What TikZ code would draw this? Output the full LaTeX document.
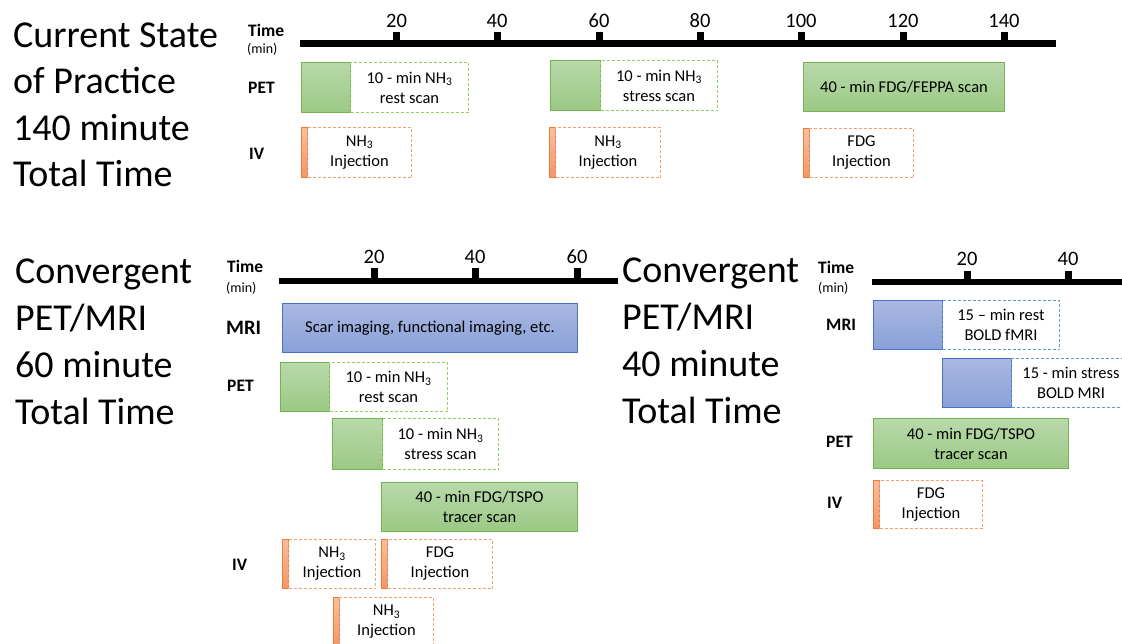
\documentclass[tikz,border=0pt]{standalone}
\usepackage{fontspec}
\setmainfont{Carlito}
\definecolor{gtop}{RGB}{184,217,170}
\definecolor{gbot}{RGB}{155,201,132}
\definecolor{gline}{RGB}{118,178,80}
\definecolor{gdash}{RGB}{146,208,100}
\definecolor{btop}{RGB}{170,184,226}
\definecolor{bbot}{RGB}{137,160,216}
\definecolor{bline}{RGB}{68,114,196}
\definecolor{bdash}{RGB}{91,155,213}
\definecolor{otop}{RGB}{248,190,160}
\definecolor{obot}{RGB}{243,150,105}
\definecolor{oline}{RGB}{237,125,49}
\definecolor{odash}{RGB}{241,160,110}
\newcommand\bx[7]{\node[#2, anchor=north west, minimum width={(#5-#3)*1pt}, minimum height={(#6-#4)*1pt}] (#1) at (#3,#4) {#7};}
\tikzset{
  box/.style={inner sep=0pt, align=center, font=\fontsize{16.5}{20}\selectfont, line width=1pt},
  gsolid/.style={box, draw=gline, top color=gtop, bottom color=gbot},
  gdashed/.style={box, draw=gdash, dash pattern=on 3pt off 2pt},
  bsolid/.style={box, draw=bline, top color=btop, bottom color=bbot},
  bdashed/.style={box, draw=bdash, dash pattern=on 3pt off 2pt},
  obar/.style={box, draw=oline, top color=otop, bottom color=obot},
  odashed/.style={box, draw=odash, dash pattern=on 3pt off 2pt},
  title/.style={anchor=base west, inner sep=0pt, font=\fontsize{38}{46}\selectfont},
  axnum/.style={anchor=base, inner sep=0pt, font=\fontsize{20.5}{24}\selectfont},
  rowlab/.style={anchor=base west, inner sep=0pt, font=\bfseries\fontsize{17.5}{20}\selectfont},
  timelab/.style={anchor=base west, inner sep=0pt, font=\bfseries\fontsize{17.5}{20}\selectfont},
  minlab/.style={anchor=base west, inner sep=0pt, font=\fontsize{14}{16}\selectfont},
  axis/.style={line width=6.5pt},
}
\begin{document}
\begin{tikzpicture}[x=1pt,y=-1pt]
\useasboundingbox (0,0) rectangle (1122,643);
\clip (0,0) rectangle (1122,643);
% ---------------- titles
\node[title] (t1a) at (13,47) {Current State};
\node[title] (t1b) at (13,93.5) {of Practice};
\node[title] (t1c) at (13,140) {140 minute};
\node[title] (t1d) at (13,186.5) {Total Time};
\node[title] (t2a) at (15,283) {Convergent};
\node[title] (t2b) at (15,330) {PET/MRI};
\node[title] (t2c) at (15,377.5) {60 minute};
\node[title] (t2d) at (15,424.5) {Total Time};
\node[title] (t3a) at (622,282) {Convergent};
\node[title] (t3b) at (622,329) {PET/MRI};
\node[title] (t3c) at (622,376) {40 minute};
\node[title] (t3d) at (622,423) {Total Time};
% ---------------- top timeline
\node[timelab] (tm1) at (248,36) {Time};
\node[minlab] (mn1) at (247,53) {(min)};
\node[rowlab] (pet1) at (248,93) {PET};
\node[rowlab] (iv1) at (249,159) {IV};
\draw[axis] (300,43.5) -- (1056,43.5);
\foreach \x/\n in {396.5/20,497/40,599/60,700/80,801/100,903/120,1004/140}{
  \fill (\x-3.5,32) rectangle (\x+3.5,44);
  \node[axnum] (n1-\n) at (\x,27) {\n};
}
\bx{p1a}{gsolid}{301}{62}{350}{112}{}
\bx{p1b}{gdashed}{350}{62}{468}{112}{10 - min NH\textsubscript{3}\\rest scan}
\bx{p2a}{gsolid}{550}{60}{600}{110}{}
\bx{p2b}{gdashed}{600}{60}{717}{110}{10 - min NH\textsubscript{3}\\stress scan}
\bx{p3}{gsolid}{803}{62}{1004}{111}{40 - min FDG/FEPPA scan}
\bx{i1a}{obar}{301}{127}{307}{177}{}
\bx{i1b}{odashed}{307}{127}{411}{177}{NH\textsubscript{3}\\Injection}
\bx{i2a}{obar}{549}{127}{555}{177}{}
\bx{i2b}{odashed}{555}{127}{660}{177}{NH\textsubscript{3}\\Injection}
\bx{i3a}{obar}{803}{128}{809}{177}{}
\bx{i3b}{odashed}{809}{128}{913}{177}{FDG\\Injection}
% ---------------- bottom-left timeline
\node[timelab] (tm2) at (227,272) {Time};
\node[minlab] (mn2) at (226,292) {(min)};
\node[rowlab, font=\bfseries\fontsize{20.5}{22}\selectfont] (mri2) at (226,334) {MRI};
\node[rowlab] (pet2) at (227,391) {PET};
\node[rowlab] (iv2) at (232,570) {IV};
\draw[axis] (279,281) -- (618,281);
\foreach \x/\n in {374/20,475/40,577/60}{
  \fill (\x-3.5,268) rectangle (\x+3.5,282);
  \node[axnum] (n2-\n) at (\x,263) {\n};
}
\bx{m2}{bsolid}{282}{303}{577}{352}{Scar imaging, functional imaging, etc.}
\bx{q1a}{gsolid}{280}{362}{329}{411}{}
\bx{q1b}{gdashed}{329}{362}{447}{411}{10 - min NH\textsubscript{3}\\rest scan}
\bx{q2a}{gsolid}{332}{418}{382}{469}{}
\bx{q2b}{gdashed}{382}{418}{498}{469}{10 - min NH\textsubscript{3}\\stress scan}
\bx{q3}{gsolid}{381}{482}{577}{531}{40 - min FDG/TSPO\\tracer scan}
\bx{j1a}{obar}{282}{539}{288}{588}{}
\bx{j1b}{odashed}{288}{539}{375}{588}{NH\textsubscript{3}\\Injection}
\bx{j2a}{obar}{381}{539}{387}{588}{}
\bx{j2b}{odashed}{387}{539}{492}{588}{FDG\\Injection}
\bx{j3a}{obar}{333}{597}{339}{646}{}
\bx{j3b}{odashed}{339}{597}{433}{646}{NH\textsubscript{3}\\Injection}
% ---------------- bottom-right timeline
\node[timelab] (tm3) at (818,273) {Time};
\node[minlab] (mn3) at (818,292) {(min)};
\node[rowlab] (mri3) at (826,330) {MRI};
\node[rowlab] (pet3) at (826,447) {PET};
\node[rowlab] (iv3) at (827,508) {IV};
\draw[axis] (872,282) -- (1130,282);
\foreach \x/\n in {967/20,1068/40}{
  \fill (\x-3.5,271) rectangle (\x+3.5,283);
  \node[axnum] (n3-\n) at (\x,265) {\n};
}
\bx{r1a}{bsolid}{873}{300}{942}{349}{}
\bx{r1b}{bdashed}{942}{300}{1059}{349}{15 -- min rest\\BOLD fMRI}
\bx{r2a}{bsolid}{942}{358}{1011}{407}{}
\bx{r2b}{bdashed}{1011}{358}{1130}{407}{15 - min stress\\BOLD MRI}
\bx{r3}{gsolid}{873}{418}{1068}{468}{40 - min FDG/TSPO\\tracer scan}
\bx{k1a}{obar}{873}{480}{879}{528}{}
\bx{k1b}{odashed}{879}{480}{982}{528}{FDG\\Injection}
\end{tikzpicture}
\end{document}
